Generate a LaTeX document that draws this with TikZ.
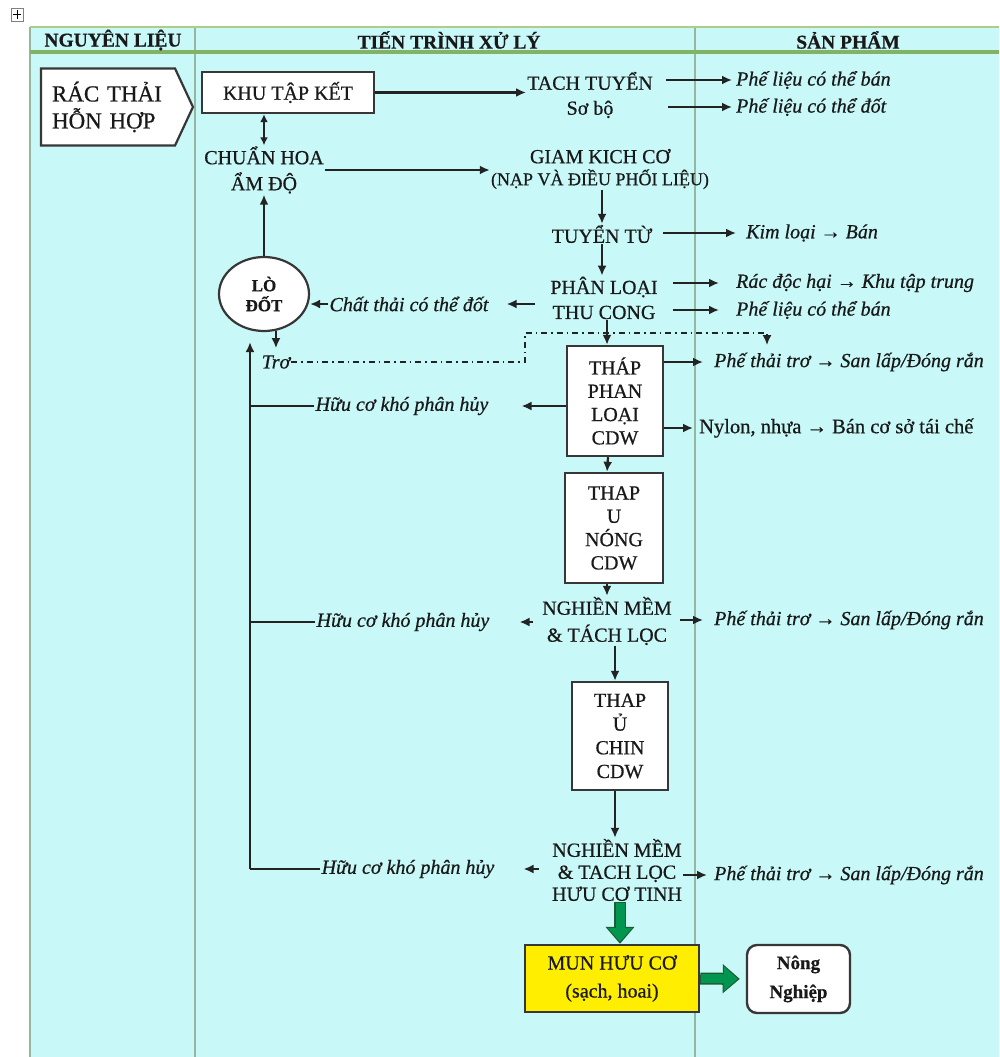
\documentclass[tikz,border=0pt]{standalone}
\usepackage{fontspec}
\setmainfont{Liberation Serif}[FakeBold=0.6]
\usetikzlibrary{arrows.meta,shapes.geometric,shapes.symbols,calc}
\definecolor{bgc}{RGB}{200,248,248}
\definecolor{gridc}{RGB}{150,182,160}
\definecolor{hdrc}{RGB}{130,178,100}
\definecolor{hdrtop}{RGB}{175,205,135}
\definecolor{linec}{RGB}{35,35,35}
\definecolor{boxc}{RGB}{55,55,55}
\definecolor{txtc}{RGB}{25,25,25}
\definecolor{yelc}{RGB}{255,238,0}
\definecolor{grnc}{RGB}{0,150,80}
\definecolor{grndk}{RGB}{30,90,50}
\newcommand\myCap{\fontsize{20}{25}\selectfont}
\newcommand\myLbl{\fontsize{20}{24}\selectfont\itshape}
\newcommand\myHdr{\fontsize{19.5}{22}\selectfont\bfseries}
\tikzset{
  conn/.style={draw=linec, line width=2.2pt},
  arr/.style={conn, -{Latex[length=10pt,width=9pt]}},
  arrboth/.style={conn, {Latex[length=8pt,width=8pt]}-{Latex[length=8pt,width=8pt]}},
  boxn/.style={draw=boxc, line width=2.4pt, fill=white, align=center, text=txtc, inner sep=0pt},
  capt/.style={align=center, font=\myCap, text=txtc, inner sep=1pt},
  lbl/.style={font=\myLbl, text=txtc, anchor=west, inner sep=1pt},
  lblc/.style={font=\myLbl, text=txtc, inner sep=1pt},
  hdr/.style={font=\myHdr, text=txtc},
  garrout/.style={draw=grndk, line width=12pt, -{Triangle[length=17pt,width=28pt]}},
  garr/.style={draw=grnc, line width=9pt, -{Triangle[length=14pt,width=24pt]}},
  ddash/.style={draw=linec, line width=1.6pt, dash pattern=on 6pt off 4pt on 1.5pt off 4pt, -{Latex[length=10pt,width=9pt]}}
}
\begin{document}
\begin{tikzpicture}[x=1pt,y=-1pt]
\useasboundingbox (0,0) rectangle (999,1057);
% background and table
\fill[white] (0,0) rectangle (999,1057);
\fill[bgc] (30,27) rectangle (999,1057);
\draw[gridc, line width=2.5pt] (30,27) -- (30,1057);
\draw[gridc, line width=2.5pt] (195,27) -- (195,1057);
\draw[gridc, line width=2.5pt] (695,27) -- (695,1057);
\draw[hdrtop, line width=2.5pt] (30,27) -- (999,27);
\draw[hdrc, line width=3.2pt] (30,52) -- (999,52);
% table handle
\draw[gray, line width=0.8pt, fill=white] (11,8) rectangle (23,21);
\draw[black, line width=1pt] (17,10) -- (17,19) (13,14.5) -- (21,14.5);
% headers
\node[hdr] (h1) at (113,40) {NGUYÊN LIỆU};
\node[hdr] (h2) at (449,40) {TIẾN TRÌNH XỬ LÝ};
\node[hdr] (h3) at (848,40) {SẢN PHẨM};
% raw material
\node[draw=boxc, line width=2.2pt, fill=white, signal, signal to=east, signal pointer angle=130,
  minimum width=152pt, minimum height=77pt, align=left, text=txtc,
  font=\fontsize{23}{27}\selectfont, text width=112pt, inner xsep=6pt] (rac) at (108,107) {RÁC THẢI\\HỖN HỢP};
% process nodes
\node[boxn, minimum width=172pt, minimum height=41pt, font=\myCap] (khu) at (288,92.5) {KHU TẬP KẾT};
\node[capt] (tach) at (590,95) {TACH TUYỂN\\Sơ bộ};
\node[capt, font=\fontsize{20}{26}\selectfont] (chuan) at (264,170) {CHUẨN HOA\\ẨM ĐỘ};
\node[capt, font=\fontsize{20}{22}\selectfont] (giam) at (600,169) {GIAM KICH CƠ\\{\fontsize{18}{22}\selectfont (NẠP VÀ ĐIỀU PHỐI LIỆU)}};
\node[capt] (tuyen) at (602,234) {TUYỂN TỪ};
\node[capt] (phan) at (604,298) {PHÂN LOẠI\\THU CONG};
\node[draw=boxc, line width=2.2pt, fill=white, ellipse, minimum width=90pt, minimum height=74pt, inner sep=0pt,
  align=center, text=txtc, font=\fontsize{17}{20}\selectfont\bfseries] (lodot) at (264,294) {LÒ\\ĐỐT};
\node[lblc] (ctd) at (409,304) {Chất thải có thể đốt};
\node[lblc] (tro) at (276,362) {Trơ};
\node[boxn, minimum width=96pt, minimum height=110pt, font=\fontsize{20}{23.3}\selectfont] (thap1) at (615,401) {THÁP\\PHAN\\LOẠI\\CDW};
\node[boxn, minimum width=98pt, minimum height=110pt, font=\fontsize{20}{23.3}\selectfont] (thap2) at (614,528) {THAP\\U\\NÓNG\\CDW};
\node[capt, font=\fontsize{20}{27}\selectfont] (ng1) at (607,621) {NGHIỀN MỀM\\\& TÁCH LỌC};
\node[boxn, minimum width=96pt, minimum height=108pt, font=\fontsize{20}{23.7}\selectfont] (thap3) at (620,736) {THAP\\Ủ\\CHIN\\CDW};
\node[capt, font=\fontsize{20}{22}\selectfont] (ng2) at (617,870) {NGHIỀN MỀM\\\& TACH LỌC\\HƯU CƠ TINH};
\node[boxn, fill=yelc, minimum width=174pt, minimum height=67pt, font=\fontsize{20}{28}\selectfont] (mun) at (612,978.5) {MUN HƯU CƠ\\(sạch, hoai)};
\node[boxn, rounded corners=10pt, minimum width=103pt, minimum height=68pt, font=\fontsize{19}{29}\selectfont\bfseries] (nong) at (798.5,979) {Nông\\Nghiệp};
% left labels
\node[lblc] (huu1) at (402,406) {Hữu cơ khó phân hủy};
\node[lblc] (huu2) at (403,622) {Hữu cơ khó phân hủy};
\node[lblc] (huu3) at (408,869) {Hữu cơ khó phân hủy};
% right labels
\node[lbl] (pl1) at (735,80) {Phế liệu có thể bán};
\node[lbl] (pl2) at (735,107) {Phế liệu có thể đốt};
\node[lbl] (kl) at (745,233) {Kim loại → Bán};
\node[lbl] (rdh) at (735,283) {Rác độc hại → Khu tập trung};
\node[lbl] (pl3) at (735,310) {Phế liệu có thể bán};
\node[lbl] (pt1) at (713,362) {Phế thải trơ → San lấp/Đóng rắn};
\node[lbl, font=\fontsize{20.5}{24}\selectfont] (ny) at (698,428) {Nylon, nhựa → Bán cơ sở tái chế};
\node[lbl] (pt2) at (713,620) {Phế thải trơ → San lấp/Đóng rắn};
\node[lbl] (pt3) at (713,875) {Phế thải trơ → San lấp/Đóng rắn};
% coordinates
\coordinate (fb) at (250,869);
\coordinate (dd1) at (525,333);
\coordinate (ddend) at (767,345);
% connectors
\draw[arr] (khu.east) -- (khu.east -| tach.west);
\draw[arr, shorten <=12pt, shorten >=3pt] (tach.east |- pl1.west) -- (pl1.west);
\draw[arr, shorten <=14pt, shorten >=3pt] (tach.east |- pl2.west) -- (pl2.west);
\draw[arrboth] (chuan.north |- khu.south) -- (chuan.north);
\draw[arr] (chuan.east) -- (chuan.east -| giam.west);
\draw[arr] (giam.south -| tuyen.north) -- (tuyen.north);
\draw[arr, shorten <=10pt, shorten >=9pt] (tuyen.east |- kl.west) -- (kl.west);
\draw[arr] (tuyen.south) -- (tuyen.south |- phan.north);
\draw[arr, shorten <=14pt, shorten >=16pt] (phan.east |- rdh.west) -- (rdh.west);
\draw[arr, shorten <=14pt, shorten >=16pt] (phan.east |- pl3.west) -- (pl3.west);
\draw[arr, shorten <=14pt, shorten >=17pt] (phan.west |- ctd.east) -- (ctd.east);
\draw[arr] (ctd.west) -- (ctd.west -| lodot.east);
\draw[arr] (lodot.north) -- (chuan.south);
\draw[arr, shorten >=6pt] (lodot.-72) -- (lodot.-72 |- tro.north);
\draw[ddash] (tro.east) -| (dd1) -| (ddend);
\draw[arr] ([xshift=3pt]phan.south) -- ([xshift=3pt]phan.south |- thap1.north);
\draw[arr, shorten >=10pt] (thap1.east |- pt1.west) -- (pt1.west);
\draw[arr, shorten >=5pt] (thap1.east |- ny.west) -- (ny.west);
\draw[arr, shorten >=32pt] (thap1.west |- huu1.east) -- (huu1.east);
\draw[conn] (huu1.west) -- (huu1.west -| fb);
\draw[arr] ([xshift=-7pt]thap1.south) -- ([xshift=-7pt]thap2.north);
\draw[arr] ([xshift=-7pt]thap2.south) -- (ng1.north);
\draw[arr, shorten <=7pt, shorten >=10pt] (ng1.east |- pt2.west) -- (pt2.west);
\draw[arr, shorten <=8pt, shorten >=29pt] (ng1.west |- huu2.east) -- (huu2.east);
\draw[conn] (huu2.west) -- (huu2.west -| fb);
\draw[arr] ([xshift=-5pt]thap3.north |- ng1.south) -- ([xshift=-5pt]thap3.north);
\draw[arr] ([xshift=-5pt]thap3.south) -- ([xshift=-5pt]thap3.south |- ng2.north);
\draw[arr, shorten >=6pt] (ng2.east |- pt3.west) -- (pt3.west);
\draw[arr, shorten <=12pt, shorten >=28pt] (ng2.west |- huu3.east) -- (huu3.east);
\draw[conn] (huu3.west) -- (fb);
\draw[arr, shorten >=10pt] (fb) -- (fb |- lodot.south);
\draw[garrout] ([xshift=8pt]mun.north |- ng2.south) -- ([xshift=8pt]mun.north);
\draw[garr, shorten <=1pt, shorten >=2pt] ([xshift=8pt]mun.north |- ng2.south) -- ([xshift=8pt]mun.north);
\draw[garrout, shorten >=6pt] (mun.east) -- (nong.west);
\draw[garr, shorten <=1pt, shorten >=8pt] (mun.east) -- (nong.west);
\end{tikzpicture}
\end{document}
